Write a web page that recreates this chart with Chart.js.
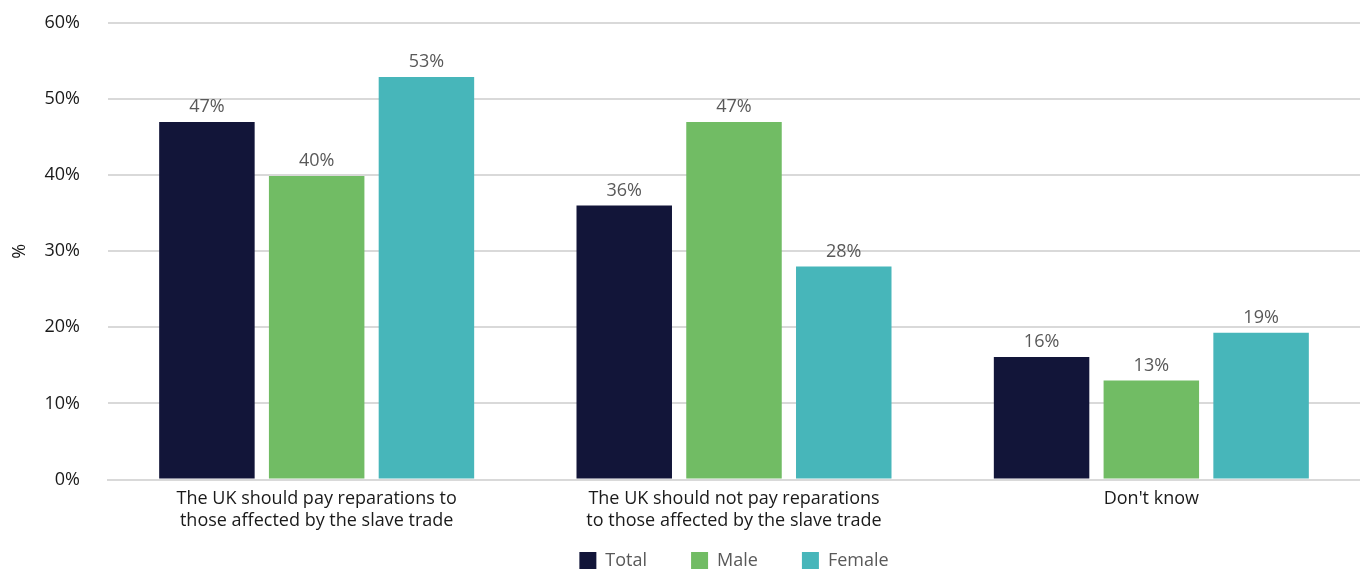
<!DOCTYPE html>
<html>
<head>
<meta charset="utf-8">
<script src="https://cdn.jsdelivr.net/npm/chart.js@4"></script>
<style>
  html, body { margin: 0; padding: 0; background: #fff; }
  #wrap { width: 1360px; height: 569px; }
</style>
</head>
<body>
<div id="wrap"><canvas id="chart"></canvas></div>
<script>
const categories = [
  ['The UK should pay reparations to', 'those affected by the slave trade'],
  ['The UK should not pay reparations', 'to those affected by the slave trade'],
  "Don't know"
];
const total_values = [47, 36, 16.1];
const male_values = [39.9, 47, 13];
const female_values = [52.9, 28, 19.3];
const y_ticks = [0, 10, 20, 30, 40, 50, 60];

const font_family = "'Open Sans', 'Noto Sans', sans-serif";

// draws the value above each bar
const bar_labels = {
  id: 'bar_labels',
  afterDatasetsDraw(chart) {
    const ctx = chart.ctx;
    ctx.save();
    ctx.font = `18px ${font_family}`;
    ctx.fillStyle = '#595959';
    ctx.textAlign = 'center';
    ctx.textBaseline = 'bottom';
    chart.data.datasets.forEach((ds, i) => {
      chart.getDatasetMeta(i).data.forEach((bar, j) => {
        ctx.fillText(Math.round(ds.data[j]) + '%', bar.x, bar.y - 6);
      });
    });
    ctx.restore();
  }
};

const config = {
  type: 'bar',
  data: {
    labels: categories,
    datasets: [
      { label: 'Total', data: total_values, backgroundColor: '#121539' },
      { label: 'Male', data: male_values, backgroundColor: '#71bc64' },
      { label: 'Female', data: female_values, backgroundColor: '#47b6ba' }
    ]
  },
  options: {
    responsive: true,
    maintainAspectRatio: false,
    animation: false,
    categoryPercentage: 0.789,
    barPercentage: 0.87,
    layout: {
      // legend sits right on the bottom edge and the plot runs a bit past the right edge
      padding: { left: 4, right: -8, top: 0, bottom: -10.5 }
    },
    scales: {
      x: {
        grid: { display: false },
        border: { color: '#d9d9d9', width: 2 },
        ticks: {
          color: '#1a1a1a',
          font: { family: font_family, size: 18, lineHeight: 1.22 },
          padding: 0
        },
        afterFit: (axis) => {
          axis.height = 28;
          axis.paddingRight = -8;
          // two-line labels run into the legend's padding, don't clip them
          axis._computeLabelArea = () => undefined;
        }
      },
      y: {
        min: 0,
        max: 60,
        afterBuildTicks: (axis) => {
          axis.ticks = y_ticks.map(v => ({ value: v }));
        },
        afterFit: (axis) => {
          axis.width = 104;
          axis.paddingTop = 23;
          axis.paddingRight = -8;
        },
        grid: { color: '#d9d9d9', lineWidth: 2, drawTicks: false },
        border: { display: false },
        ticks: {
          color: '#1a1a1a',
          font: { family: font_family, size: 18 },
          padding: 28,
          callback: (v) => v + '%'
        },
        title: {
          display: true,
          text: '%',
          color: '#1a1a1a',
          font: { family: font_family, size: 18 },
          padding: { top: 5, bottom: 12 }
        }
      }
    },
    plugins: {
      legend: {
        position: 'bottom',
        fullSize: false,
        labels: {
          color: '#595959',
          font: { family: font_family, size: 18 },
          boxWidth: 17,
          boxHeight: 17,
          padding: 44
        }
      },
      tooltip: { enabled: false }
    }
  },
  plugins: [bar_labels]
};

new Chart(document.getElementById('chart'), config);
</script>
</body>
</html>
